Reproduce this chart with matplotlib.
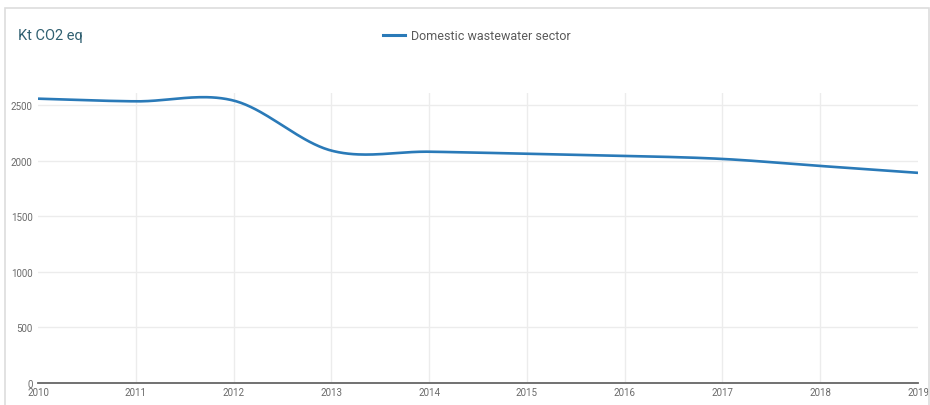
import matplotlib
matplotlib.use("Agg")
import matplotlib.pyplot as plt
from matplotlib.patches import Rectangle
import numpy as np

years = [2010, 2011, 2012, 2013, 2014, 2015, 2016, 2017, 2018, 2019]
emissions = [2557, 2533, 2540, 2090, 2080, 2062, 2043, 2015, 1952, 1890]
y_ticks = [0, 500, 1000, 1500, 2000, 2500]
series_name = "Domestic wastewater sector"
unit_title = "Kt CO2 eq"


def catmull_rom(x, y, n=40):
    # smooth line through the points, like the spline in the source chart
    x = np.asarray(x, float)
    y = np.asarray(y, float)
    m = np.zeros_like(y)
    m[1:-1] = (y[2:] - y[:-2]) / (x[2:] - x[:-2])
    m[0] = (y[1] - y[0]) / (x[1] - x[0])
    m[-1] = (y[-1] - y[-2]) / (x[-1] - x[-2])
    xs, ys = [], []
    for i in range(len(x) - 1):
        h = x[i + 1] - x[i]
        t = np.linspace(0, 1, n, endpoint=(i == len(x) - 2))
        h00 = 2 * t**3 - 3 * t**2 + 1
        h10 = t**3 - 2 * t**2 + t
        h01 = -2 * t**3 + 3 * t**2
        h11 = t**3 - t**2
        xs.append(x[i] + t * h)
        ys.append(h00 * y[i] + h10 * h * m[i] + h01 * y[i + 1] + h11 * h * m[i + 1])
    return np.concatenate(xs), np.concatenate(ys)


plt.rcParams['font.family'] = ['Roboto', 'DejaVu Sans']

W, H = 930, 406
fig = plt.figure(figsize=(W / 100, H / 100), dpi=100)

# light frame round the chart (bottom edge runs off the image)
fig.patches.append(Rectangle((4.5 / W, -0.1), 924 / W, 1.1 - 8.5 / H, transform=fig.transFigure,
                             fill=False, edgecolor="#dddddd", linewidth=1.2))

ax = fig.add_axes([38 / W, 22 / H, 880 / W, 290 / H])

sx, sy = catmull_rom(years, emissions)
ax.plot(sx, sy, color="#2a7ab8", linewidth=1.9, solid_capstyle="butt", zorder=3)

ax.set_xlim(2010, 2019)
ax.set_ylim(0, 2608)
ax.set_xticks(years)
ax.set_xticklabels([str(v) for v in years])
ax.set_yticks(y_ticks)
ax.set_yticklabels([str(v) for v in y_ticks])

# grid: horizontal lines across, vertical only at inner years
ax.grid(True, axis="y", color="#ececec", linewidth=1.0)
for yr in years[1:-1]:
    ax.axvline(yr, color="#ececec", linewidth=1.0, zorder=0)
ax.set_axisbelow(True)
for s in ["top", "right", "left"]:
    ax.spines[s].set_visible(False)
ax.spines["bottom"].set_color("#666666")
ax.spines["bottom"].set_linewidth(1.3)
ax.spines["bottom"].set_zorder(4)
ax.tick_params(axis="both", length=0, labelsize=7, labelcolor="#6a6a6a")
ax.tick_params(axis="y", pad=4)
ax.tick_params(axis="x", pad=3)

fig.text(18 / W, 1 - 36 / H, unit_title, fontsize=10.5, color="#2f5f70",
         va="center", ha="left")

# legend drawn by hand to sit where the source puts it
fig.lines.append(plt.Line2D([383 / W, 405 / W], [1 - 36 / H, 1 - 36 / H],
                            transform=fig.transFigure, color="#2a7ab8", linewidth=2.2))
fig.text(411 / W, 1 - 36 / H, series_name, fontsize=9, color="#5a5a5a",
         va="center", ha="left")

fig.savefig("out.png", dpi=100)
